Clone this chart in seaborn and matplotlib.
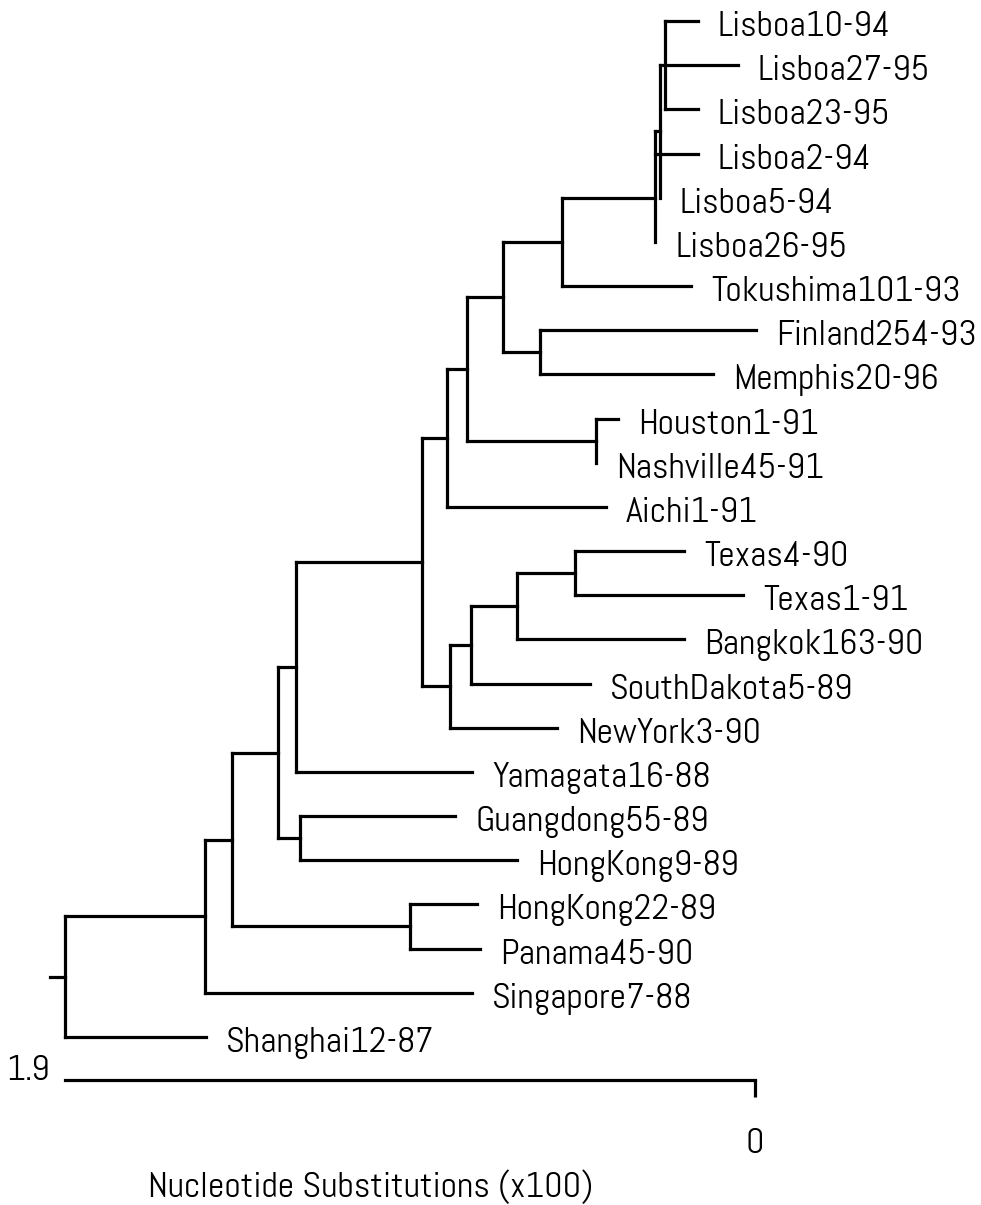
import matplotlib
matplotlib.use("Agg")
import matplotlib.pyplot as plt
import seaborn as sns
import pandas as pd
from matplotlib import font_manager

# ---------------- data ----------------
# leaves, top to bottom
leaf_names = [
    "Lisboa10-94", "Lisboa27-95", "Lisboa23-95", "Lisboa2-94", "Lisboa5-94",
    "Lisboa26-95", "Tokushima101-93", "Finland254-93", "Memphis20-96",
    "Houston1-91", "Nashville45-91", "Aichi1-91", "Texas4-90", "Texas1-91",
    "Bangkok163-90", "SouthDakota5-89", "NewYork3-90", "Yamagata16-88",
    "Guangdong55-89", "HongKong9-89", "HongKong22-89", "Panama45-90",
    "Singapore7-88", "Shanghai12-87",
]
# distance of each tip from the root (nucleotide substitutions x100)
leaf_depth = [
    1.743, 1.853, 1.743, 1.743, 1.638,
    1.625, 1.724, 1.903, 1.784,
    1.523, 1.462, 1.490, 1.705, 1.867,
    1.705, 1.446, 1.355, 1.121,
    1.074, 1.245, 1.135, 1.143,
    1.121, 0.388,
]
# internal nodes: name, distance from root, children (drawing order)
node_names = ["root", "N", "L", "M", "J", "K", "I", "D", "E", "F", "G", "H",
              "C", "B", "HN", "A", "FM", "LT", "P", "Q", "R"]
node_depth = [0.000, 0.386, 0.460, 0.950, 0.587, 0.647, 0.636, 0.983, 1.060,
              1.118, 1.245, 1.404, 1.052, 1.107, 1.462, 1.206, 1.308, 1.369,
              1.625, 1.638, 1.652]
node_children = [
    ["N", "Shanghai12-87"],
    ["L", "Singapore7-88"],
    ["J", "M"],
    ["HongKong22-89", "Panama45-90"],
    ["I", "K"],
    ["Guangdong55-89", "HongKong9-89"],
    ["D", "Yamagata16-88"],
    ["C", "E"],
    ["F", "NewYork3-90"],
    ["G", "SouthDakota5-89"],
    ["H", "Bangkok163-90"],
    ["Texas4-90", "Texas1-91"],
    ["B", "Aichi1-91"],
    ["A", "HN"],
    ["Houston1-91", "Nashville45-91"],
    ["LT", "FM"],
    ["Finland254-93", "Memphis20-96"],
    ["P", "Tokushima101-93"],
    ["Lisboa2-94", "Q", "Lisboa26-95"],
    ["R", "Lisboa5-94"],
    ["Lisboa10-94", "Lisboa27-95", "Lisboa23-95"],
]
root_branch = 0.04
scale_length = 1.9
scale_labels = ["1.9", "0"]
axis_title = "Nucleotide Substitutions (x100)"

# ---------------- build segments ----------------
depth = dict(zip(leaf_names, leaf_depth))
depth.update(dict(zip(node_names, node_depth)))
children = dict(zip(node_names, node_children))
leaf_index = {n: i for i, n in enumerate(leaf_names)}

def conn_y(name):
    if name in leaf_index:
        return float(leaf_index[name])
    ch = children[name]
    return (conn_y(ch[0]) + conn_y(ch[-1])) / 2.0

rows = []
seg = 0
def add(x0, y0, x1, y1):
    global seg
    rows.append({"x": x0, "y": y0, "seg": seg})
    rows.append({"x": x1, "y": y1, "seg": seg})
    seg += 1

for n in node_names:
    ys = [conn_y(c) for c in children[n]]
    add(depth[n], min(ys), depth[n], max(ys))
    for c, yc in zip(children[n], ys):
        if depth[c] > depth[n]:
            add(depth[n], yc, depth[c], yc)
ry = conn_y("root")
add(-root_branch, ry, 0.0, ry)
seg_df = pd.DataFrame(rows)

# ---------------- figure ----------------
sns.set_style("white")
avail = {f.name for f in font_manager.fontManager.ttflist}
fam = next((f for f in ["Abel", "Roboto Condensed", "Liberation Sans Narrow"]
            if f in avail), "DejaVu Sans")
plt.rcParams["font.family"] = [fam, "DejaVu Sans"]

W, H = 981, 1205
fig = plt.figure(figsize=(W / 100, H / 100), dpi=100)
ax = fig.add_axes([0, 0, 1, 1])

# pixel <-> data helpers (layout only)
x0px, x1px = 65.0, 755.0
y0px, ystep = 21.0, 44.17
def px2x(p):
    return (p - x0px) * scale_length / (x1px - x0px)
def px2y(p):
    return (p - y0px) / ystep

ax.set_xlim(px2x(0), px2x(W))
ax.set_ylim(px2y(H), px2y(0))

LW = 2.3
sns.lineplot(data=seg_df, x="x", y="y", units="seg", estimator=None, sort=False,
             color="black", linewidth=LW, ax=ax, legend=False,
             solid_capstyle="projecting")

fs = 26
for name in leaf_names:
    ax.annotate(name, xy=(depth[name], leaf_index[name]), xytext=(20, -15),
                textcoords="offset pixels", ha="left", va="baseline",
                fontsize=fs, color="black")

# scale bar
bar_y = px2y(1080)
ax.plot([0, scale_length], [bar_y, bar_y], color="black", lw=LW,
        solid_capstyle="projecting")
ax.plot([scale_length, scale_length], [bar_y, px2y(1097)], color="black", lw=LW,
        solid_capstyle="butt")
ax.text(px2x(50), bar_y, scale_labels[0], ha="right", va="baseline",
        fontsize=fs, color="black")
ax.text(scale_length, px2y(1153), scale_labels[1], ha="center", va="baseline",
        fontsize=fs, color="black")
ax.text(px2x(371), px2y(1197), axis_title, ha="center", va="baseline",
        fontsize=fs, color="black")

ax.set_axis_off()
fig.savefig("out.png", dpi=100, facecolor="white")
